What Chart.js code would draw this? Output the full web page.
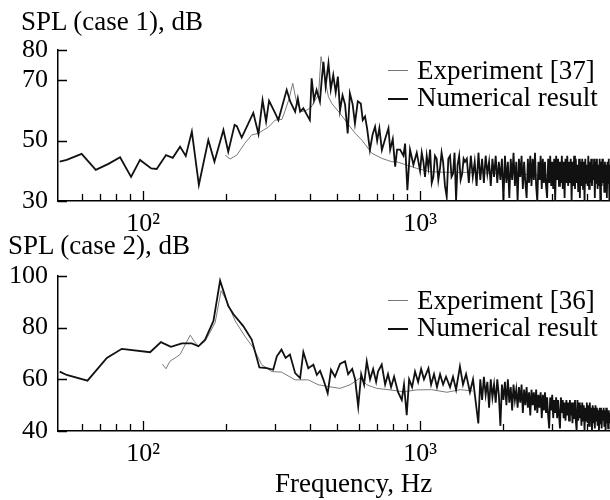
<!DOCTYPE html>
<html>
<head>
<meta charset="utf-8">
<script src="https://cdn.jsdelivr.net/npm/chart.js@4"></script>
<style>
  body { margin: 0; background: #fff; }
  #wrap { position: relative; width: 610px; height: 500px; overflow: hidden; }
  canvas { position: absolute; left: 0; }
  .txt { position: absolute; font-family: 'Liberation Serif', serif; font-size: 27px; line-height: 27px; white-space: nowrap; color: #000; }
  .dash { position: absolute; width: 20px; }
</style>
</head>
<body>
<div id="wrap">
  <canvas id="grafico1" width="610" height="240" style="top:0"></canvas>
  <canvas id="grafico2" width="610" height="230" style="top:240px"></canvas>

  <div class="txt" style="left:21px; top:8px">SPL (case 1), dB</div>
  <div class="dash" style="left:388px; top:70px; border-top:1.2px solid #777"></div>
  <div class="txt" style="left:417px; top:57px">Experiment [37]</div>
  <div class="dash" style="left:388px; top:98px; border-top:2px solid #111"></div>
  <div class="txt" style="left:417px; top:84px">Numerical result</div>

  <div class="txt" style="left:8px; top:232px">SPL (case 2), dB</div>
  <div class="dash" style="left:388px; top:300px; border-top:1.2px solid #777"></div>
  <div class="txt" style="left:417px; top:287px">Experiment [36]</div>
  <div class="dash" style="left:388px; top:328px; border-top:2px solid #111"></div>
  <div class="txt" style="left:417px; top:314px">Numerical result</div>

  <div class="txt" style="left:275px; top:470px">Frequency, Hz</div>
</div>

<script>
// eixos
const xTickValues = [100, 1000];
const xTickLabels = ['10²', '10³'];
const minorTicks = [60, 70, 80, 90, 200, 300, 400, 500, 600, 700, 800, 900, 2000, 3000, 4000];
const yTicks1 = [30, 50, 70, 80];
const yTicks2 = [40, 60, 80, 100];

// faixa de alta frequência (passo fixo de 25 Hz da simulação)
const hiFreq = [
  1475, 1500, 1525, 1550, 1575, 1600, 1625, 1650,
  1675, 1700, 1725, 1750, 1775, 1800, 1825, 1850,
  1875, 1900, 1925, 1950, 1975, 2000, 2025, 2050,
  2075, 2100, 2125, 2150, 2175, 2200, 2225, 2250,
  2275, 2300, 2325, 2350, 2375, 2400, 2425, 2450,
  2475, 2500, 2525, 2550, 2575, 2600, 2625, 2650,
  2675, 2700, 2725, 2750, 2775, 2800, 2825, 2850,
  2875, 2900, 2925, 2950, 2975, 3000, 3025, 3050,
  3075, 3100, 3125, 3150, 3175, 3200, 3225, 3250,
  3275, 3300, 3325, 3350, 3375, 3400, 3425, 3450,
  3475, 3500, 3525, 3550, 3575, 3600, 3625, 3650,
  3675, 3700, 3725, 3750, 3775, 3800, 3825, 3850,
  3875, 3900, 3925, 3950, 3975, 4000, 4025, 4050,
  4075, 4100, 4125, 4150, 4175, 4200, 4225, 4250,
  4275, 4300, 4325, 4350, 4375, 4400, 4425, 4450,
  4475, 4500, 4525, 4550, 4575, 4600, 4625, 4650,
  4675, 4700, 4725, 4750, 4775, 4800, 4825, 4850
];

// caso 1 - resultado numérico
const numFreq1 = [
  50, 53, 60, 67.5, 75, 82.6, 90.5, 97.5, 107, 112,
  121, 128, 136, 142.6, 150, 159, 172, 181, 195, 203,
  214, 218, 227, 250, 261, 270, 278, 285, 298, 308,
  330, 340, 354, 362, 369, 379, 400, 406, 414, 423,
  435, 442, 448, 456, 467, 476, 486, 496, 505, 514,
  525, 536, 548, 558, 571, 582, 596, 611, 621, 633,
  644, 659, 674, 688, 700, 713, 728, 748, 769, 780,
  797, 813, 826, 847, 871, 883, 900, 920, 946, 973,
  1000, 1014, 1028, 1042, 1057, 1072, 1087, 1102, 1117, 1132,
  1148, 1164, 1181, 1196, 1211, 1230, 1248, 1265, 1283, 1299,
  1315, 1332, 1349, 1366, 1384, 1401, 1419, 1436, 1453
].concat(hiFreq);
const numSpl1 = [
  43, 43.6, 45.6, 40.3, 42.3, 44.5, 38, 43.6, 40.8, 40.6,
  45.2, 44.3, 48, 44.9, 53, 35.3, 50.2, 43, 53.5, 46.3,
  55.2, 54.8, 51, 59.2, 52.2, 63.4, 56.3, 63.2, 59.6, 56.8,
  66.8, 62.9, 59.6, 64, 59.6, 60.7, 56.8, 70.6, 63.4, 66.8,
  62.9, 70.6, 76.1, 68, 75.6, 67, 71.7, 66, 71.2, 60,
  65, 62, 52.4, 65.7, 62, 55.7, 63, 62.3, 56.8, 58,
  54, 46.9, 52, 54.6, 50, 54.1, 46.9, 50.5, 54.1, 47,
  50.5, 41.4, 47, 47, 45, 49, 33.6, 47, 42, 46,
  40, 46, 43, 38, 45, 41, 47, 36, 38, 45,
  44, 37, 41, 46, 43, 35, 31.4, 44, 45, 38,
  39, 46, 30.3, 42, 45, 37, 39, 44, 43,
  44, 36, 45, 38, 43, 35, 46, 37,
  44, 36, 45, 39, 43, 35, 44, 38,
  45, 36, 43, 37, 44, 30, 45, 36,
  43, 31, 44, 37, 46, 35, 43, 30,
  44, 38, 45, 34, 43, 36, 31, 44,
  36, 45, 35, 44, 37, 46, 35, 30,
  43, 37, 45, 34, 44, 36, 43, 35,
  31, 44, 36, 45, 35, 43, 34, 44,
  30, 45, 37, 44, 35, 43, 36, 45,
  34, 43, 31, 44, 36, 45, 35, 43,
  36, 44, 30, 43, 35, 45, 34, 44,
  36, 42, 33, 44, 31, 43, 35, 44,
  34, 43, 30, 44, 36, 42, 35, 45,
  34, 43, 36, 44, 35, 42, 37, 44,
  31, 43, 36, 44, 34, 42, 35, 44,
  30, 43, 35, 44, 36, 42, 33, 43,
  35, 42, 31, 43, 36, 44, 30, 42
];

// caso 1 - experimento [37]
const expFreq1 = [
  198, 206, 218, 233, 247, 261, 272, 283, 300, 317,
  326, 337, 347, 359, 374, 390, 404, 418, 430, 439,
  447, 454, 467, 480, 514, 559, 582, 616, 670, 728,
  791, 824, 973, 1087, 1248, 1514, 2000, 3000, 4000, 4840
];
const expSpl1 = [
  45.2, 43.9, 45.2, 49.1, 51.9, 52.4, 53.5, 54.4, 56.8, 57,
  60, 64, 69, 62.3, 59.6, 60.1, 61, 63.4, 65.1, 77.8,
  74, 70, 64.5, 62.3, 59, 54.6, 52.5, 50.2, 45.8, 44.1,
  43, 43, 40.8, 39.7, 39.5, 39.5, 39, 38.5, 38, 38
];

// caso 2 - resultado numérico
const numFreq2 = [
  50, 53, 63, 74, 83.8, 106, 116, 126, 138, 150,
  158.5, 167.5, 179.5, 189.7, 203, 212, 230, 246.7, 263, 280,
  295, 304, 316, 327, 339, 354, 369, 379, 395, 412,
  424, 435.5, 448, 464, 477, 493, 514, 536, 550, 569,
  583, 598, 613, 628, 642, 660, 677, 694, 705, 727,
  748, 766, 786, 806, 833, 859, 875, 895, 913, 936,
  959, 984, 1009, 1033, 1072, 1096, 1123, 1151, 1181, 1211,
  1241, 1283, 1315, 1349, 1393, 1429, 1466, 1514, 1553, 1623
].concat(hiFreq.slice(7));
const numSpl2 = [
  63, 61.7, 59.5, 68.3, 71.8, 70.5, 74.4, 72.6, 73.9, 73.9,
  72.8, 75.4, 82.6, 98.2, 88.4, 85.2, 80.6, 75.4, 64.6, 64.3,
  63.7, 68.9, 71.5, 68.3, 69.6, 62.4, 60.5, 70.6, 64.3, 65.7,
  61.7, 63.3, 59.8, 54.6, 63.7, 61, 66, 67, 62, 64,
  60, 49.4, 62, 58, 67, 60, 64, 59, 63, 65.7,
  58, 62, 57, 61, 55, 52, 58, 46.1, 60, 57,
  63, 59, 64, 60, 64.3, 58, 62, 57, 62, 58,
  61, 57, 61, 56, 65, 58, 62, 55, 60, 42.9,
  60,
  52, 61, 54, 59, 49, 60, 53, 58,
  51, 60, 54, 42, 58, 52, 59, 50,
  60, 51, 57, 48, 58, 52, 56, 49,
  57, 51, 58, 47, 56, 50, 57, 49,
  55, 46, 56, 50, 55, 48, 56, 47,
  54, 49, 55, 45, 54, 48, 55, 47,
  53, 46, 41, 53, 48, 54, 45, 52,
  47, 53, 45, 52, 46, 41, 53, 47,
  52, 45, 51, 44, 52, 46, 51, 44,
  52, 46, 51, 43, 51, 45, 52, 44,
  40, 52, 44, 51, 45, 50, 42, 51,
  44, 50, 40, 49, 44, 51, 43, 50,
  42, 51, 44, 49, 40, 50, 43, 49,
  41, 50, 44, 49, 42, 48, 40, 49,
  43, 49, 41, 48, 44, 49, 42, 48,
  40, 49, 43, 48, 41, 48, 43, 47
];

// caso 2 - experimento [36]
const expFreq2 = [
  117.4, 121, 125, 130.5, 136, 142, 148, 153, 158.5, 167.5,
  182, 191.3, 200.5, 215, 233, 250, 268, 291.5, 316, 354,
  395, 429, 467, 514, 559, 607, 642, 698, 779, 871,
  973, 1100, 1250, 1400, 1550
];
const expSpl2 = [
  65.9, 64.1, 67, 68.3, 69.6, 73.5, 77.1, 74.7, 72.8, 74.7,
  81.9, 94.3, 90.4, 82.6, 76.7, 72.2, 65.7, 63, 62.8, 59.8,
  59.8, 57.9, 57.2, 56.5, 57.9, 60.5, 57.9, 56.5, 55.9, 55.2,
  55.9, 56, 55, 56, 55.5
];

const fonte = { family: "'Liberation Serif', serif", size: 26 };

// marcas dos eixos voltadas para dentro
const marcasEixo = {
  id: 'marcasEixo',
  afterDatasetsDraw(chart, args, opts) {
    const { ctx, chartArea: a, scales: { x, y } } = chart;
    ctx.save();
    ctx.strokeStyle = '#000';
    ctx.lineWidth = 1.3;
    ctx.beginPath();
    minorTicks.forEach(f => {
      const px = Math.round(x.getPixelForValue(f)) + 0.5;
      ctx.moveTo(px, a.bottom);
      ctx.lineTo(px, a.bottom - 7);
    });
    xTickValues.forEach(f => {
      const px = Math.round(x.getPixelForValue(f)) + 0.5;
      ctx.moveTo(px, a.bottom);
      ctx.lineTo(px, a.bottom - 10);
    });
    opts.yTicks.forEach(v => {
      const py = Math.round(y.getPixelForValue(v)) + 0.5;
      ctx.moveTo(a.left, py);
      ctx.lineTo(a.left + 9, py);
    });
    ctx.stroke();
    ctx.restore();
  }
};

function pontos(freq, spl) {
  return freq.map((f, i) => ({ x: f, y: spl[i] }));
}

function criarGrafico(id, numFreq, numSpl, expFreq, expSpl, yMin, yMax, yTicks, padTop) {
  const ctx = document.getElementById(id);
  return new Chart(ctx, {
    type: 'line',
    data: {
      datasets: [{
        label: 'Numerical result',
        data: pontos(numFreq, numSpl),
        borderColor: '#111',
        borderWidth: 1.8,
        pointRadius: 0,
        tension: 0
      }, {
        label: 'Experiment',
        data: pontos(expFreq, expSpl),
        borderColor: '#7a7a7a',
        borderWidth: 1,
        pointRadius: 0,
        tension: 0
      }]
    },
    options: {
      responsive: false,
      animation: false,
      devicePixelRatio: 1,
      events: [],
      layout: { padding: { top: padTop, left: 0, right: 0, bottom: 0 } },
      plugins: {
        legend: { display: false },
        tooltip: { enabled: false },
        marcasEixo: { yTicks: yTicks }
      },
      scales: {
        x: {
          type: 'logarithmic',
          min: 49.3,
          max: 4850,
          grid: { display: false, drawTicks: false },
          border: { display: true, color: '#000', width: 1.5 },
          afterBuildTicks: s => { s.ticks = xTickValues.map(v => ({ value: v })); },
          afterFit: s => { s.height = 39; },
          ticks: {
            autoSkip: false,
            maxRotation: 0,
            minRotation: 0,
            padding: 8,
            color: '#000',
            font: fonte,
            callback: (v, i) => xTickLabels[i]
          }
        },
        y: {
          min: yMin,
          max: yMax,
          grid: { display: false, drawTicks: false },
          border: { display: true, color: '#000', width: 1.5 },
          afterBuildTicks: s => { s.ticks = yTicks.map(v => ({ value: v })); },
          afterFit: s => { s.width = 58; },
          ticks: {
            padding: 10,
            color: '#000',
            font: fonte
          }
        }
      }
    },
    plugins: [marcasEixo]
  });
}

criarGrafico('grafico1', numFreq1, numSpl1, expFreq1, expSpl1, 30, 80, yTicks1, 50);
criarGrafico('grafico2', numFreq2, numSpl2, expFreq2, expSpl2, 40, 100, yTicks2, 36);
</script>
</body>
</html>
